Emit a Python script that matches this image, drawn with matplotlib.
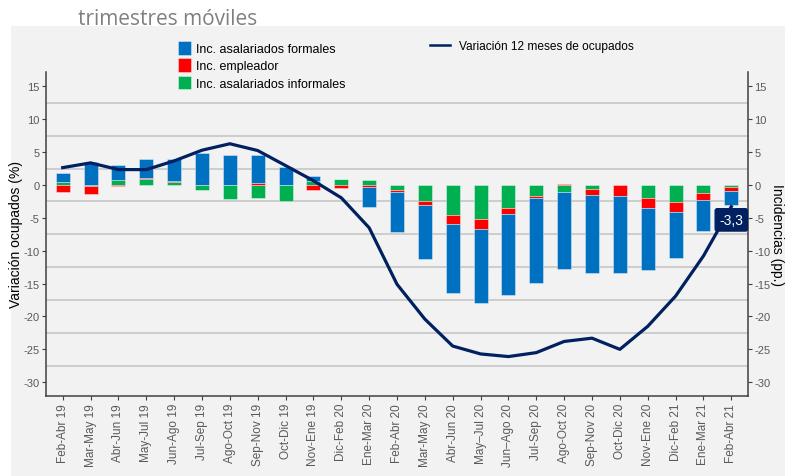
"""
Incidencias en la variacion 12 meses de ocupados, trimestres moviles
"""

import numpy as np
import matplotlib
matplotlib.use('Agg')
import matplotlib.pyplot as plt
from matplotlib.patches import Rectangle
from matplotlib.lines import Line2D

periodos = ['Feb-Abr 19', 'Mar-May 19', 'Abr-Jun 19', 'May-Jul 19', 'Jun-Ago 19',
            'Jul-Sep 19', 'Ago-Oct 19', 'Sep-Nov 19', 'Oct-Dic 19', 'Nov-Ene 19',
            'Dic-Feb 20', 'Ene-Mar 20', 'Feb-Abr 20', 'Mar-May 20', 'Abr-Jun 20',
            'May\u2013Jul 20', 'Jun\u2013Ago 20', 'Jul-Sep 20', 'Ago-Oct 20', 'Sep-Nov 20',
            'Oct-Dic 20', 'Nov-Ene 20', 'Dic-Feb 21', 'Ene-Mar 21', 'Feb-Abr 21']

formales = [1.44, 3.5, 2.25, 2.85, 3.4, 4.8, 4.5, 4.25, 2.75, 0.75, 0.0, -3.1,
            -6.1, -8.25, -10.5, -11.25, -12.3, -12.9, -11.8, -11.85, -11.6, -9.5,
            -7.0, -4.65, -2.15]
empleador = [-1.0, -1.25, -0.15, 0.2, 0.1, 0.0, 0.0, 0.3, 0.0, -0.8, -0.45, -0.3,
             -0.3, -0.55, -1.37, -1.57, -0.87, -0.2, 0.15, -0.9, -1.73, -1.57,
             -1.56, -1.05, -0.55]
informales = [0.4, -0.1, 0.8, 0.9, 0.5, -0.75, -2.15, -1.9, -2.45, 0.6, 0.85, 0.75,
              -0.7, -2.5, -4.57, -5.18, -3.55, -1.73, -1.0, -0.6, 0.0, -1.93,
              -2.6, -1.25, -0.35]
variacion = [2.65, 3.37, 2.35, 2.35, 3.67, 5.3, 6.28, 5.25, 2.96, 0.66, -1.94, -6.5,
             -15.1, -20.4, -24.5, -25.7, -26.1, -25.5, -23.8, -23.3, -25.0, -21.5,
             -16.9, -10.8, -3.3]
ultimo_valor = '-3,3'

azul = '#0070C0'
rojo = '#FF0000'
verde = '#00B050'
marino = '#002060'
fondo = '#f2f2f2'
gris = '#595959'

plt.rcParams['font.family'] = ['Liberation Sans', 'DejaVu Sans']
plt.rcParams['axes.unicode_minus'] = False

fig = plt.figure(figsize=(7.87, 4.77), dpi=100)
fig.patch.set_facecolor('white')
fig.patches.append(Rectangle((11 / 787, 0), 774 / 787, 450 / 477,
                             transform=fig.transFigure, facecolor=fondo,
                             edgecolor='none', zorder=-10))

ax = fig.add_axes([46 / 787, 1 - 397 / 477, 702 / 787, 324 / 477])
ax.set_facecolor(fondo)

x = np.arange(len(periodos))
series = [(informales, verde, 'Inc. asalariados informales'),
          (empleador, rojo, 'Inc. empleador'),
          (formales, azul, 'Inc. asalariados formales')]

pos_base = np.zeros(len(x))
neg_base = np.zeros(len(x))
handles = {}
for vals, color, name in series:
    vals = np.array(vals)
    bottom = np.where(vals >= 0, pos_base, neg_base)
    b = ax.bar(x, vals, width=0.5, bottom=bottom, color=color,
               edgecolor=(1, 1, 1, 0.45), linewidth=0.6, zorder=3)
    handles[name] = b
    pos_base += np.where(vals >= 0, vals, 0)
    neg_base += np.where(vals < 0, vals, 0)

ax.plot(x, variacion, color=marino, linewidth=2.3, zorder=4,
        solid_joinstyle='round')

ax.annotate(ultimo_valor, xy=(x[-1], -5.3), ha='center', va='center',
            color='white', fontsize=10, zorder=6,
            bbox=dict(boxstyle='round,pad=0.3,rounding_size=0.15',
                      facecolor=marino, edgecolor=marino))

ax.set_xlim(-0.6, 24.6)
ax.set_ylim(-32.1, 17.2)
ax.set_yticks(np.arange(-30, 16, 5))
ax.set_yticks(np.arange(-27.5, 15, 5), minor=True)
ax.grid(axis='y', which='minor', color='#c3c3c3', linewidth=1.1, zorder=0)
ax.grid(axis='y', which='major', visible=False)
ax.tick_params(axis='y', which='minor', length=0)
ax.set_xticks(x)
ax.set_xticklabels(periodos, rotation=90, fontsize=8.5, color=gris)
ax.tick_params(axis='both', which='major', length=3, color='#404040',
               labelsize=8.5, labelcolor=gris, pad=2)
ax.tick_params(axis='y', labelsize=8, pad=1.5)

for s in ['left', 'bottom', 'right']:
    ax.spines[s].set_color('#404040')
    ax.spines[s].set_linewidth(1.1)
ax.spines['top'].set_visible(False)

ax2 = ax.twinx()
ax2.set_ylim(ax.get_ylim())
ax2.set_yticks(np.arange(-30, 16, 5))
ax2.tick_params(axis='y', length=3, color='#404040', labelsize=8,
                labelcolor=gris, pad=1.5)
for s in ['left', 'bottom', 'top', 'right']:
    ax2.spines[s].set_visible(False)

ax.set_ylabel('Variación ocupados (%)', fontsize=10, va='center')
ax.yaxis.set_label_coords(-0.0425, 0.5)
ax2.set_ylabel('Incidencias (pp.)', fontsize=10, rotation=270, va='center')
ax2.yaxis.set_label_coords(1.042, 0.5)

leg1 = fig.legend([handles['Inc. asalariados formales'], handles['Inc. empleador'],
                   handles['Inc. asalariados informales']],
                  ['Inc. asalariados formales', 'Inc. empleador',
                   'Inc. asalariados informales'],
                  loc='upper left', bbox_to_anchor=(172 / 787, 1 - 36 / 477),
                  frameon=False, fontsize=9, handlelength=1.0, handleheight=1.3,
                  handletextpad=0.4, labelspacing=0.25, borderpad=0)
leg2 = fig.legend([Line2D([0], [0], color=marino, linewidth=1.8)],
                  ['Variación 12 meses de ocupados'],
                  loc='upper left', bbox_to_anchor=(424 / 787, 1 - 35 / 477),
                  frameon=False, fontsize=8.6, handlelength=1.7,
                  handletextpad=0.7, borderpad=0)

fig.text(78 / 787, 1 - 25 / 477, 'trimestres móviles', fontsize=15,
         color='#808080', family=['Open Sans', 'DejaVu Sans'], va='baseline')

fig.savefig('out.png', dpi=100)
